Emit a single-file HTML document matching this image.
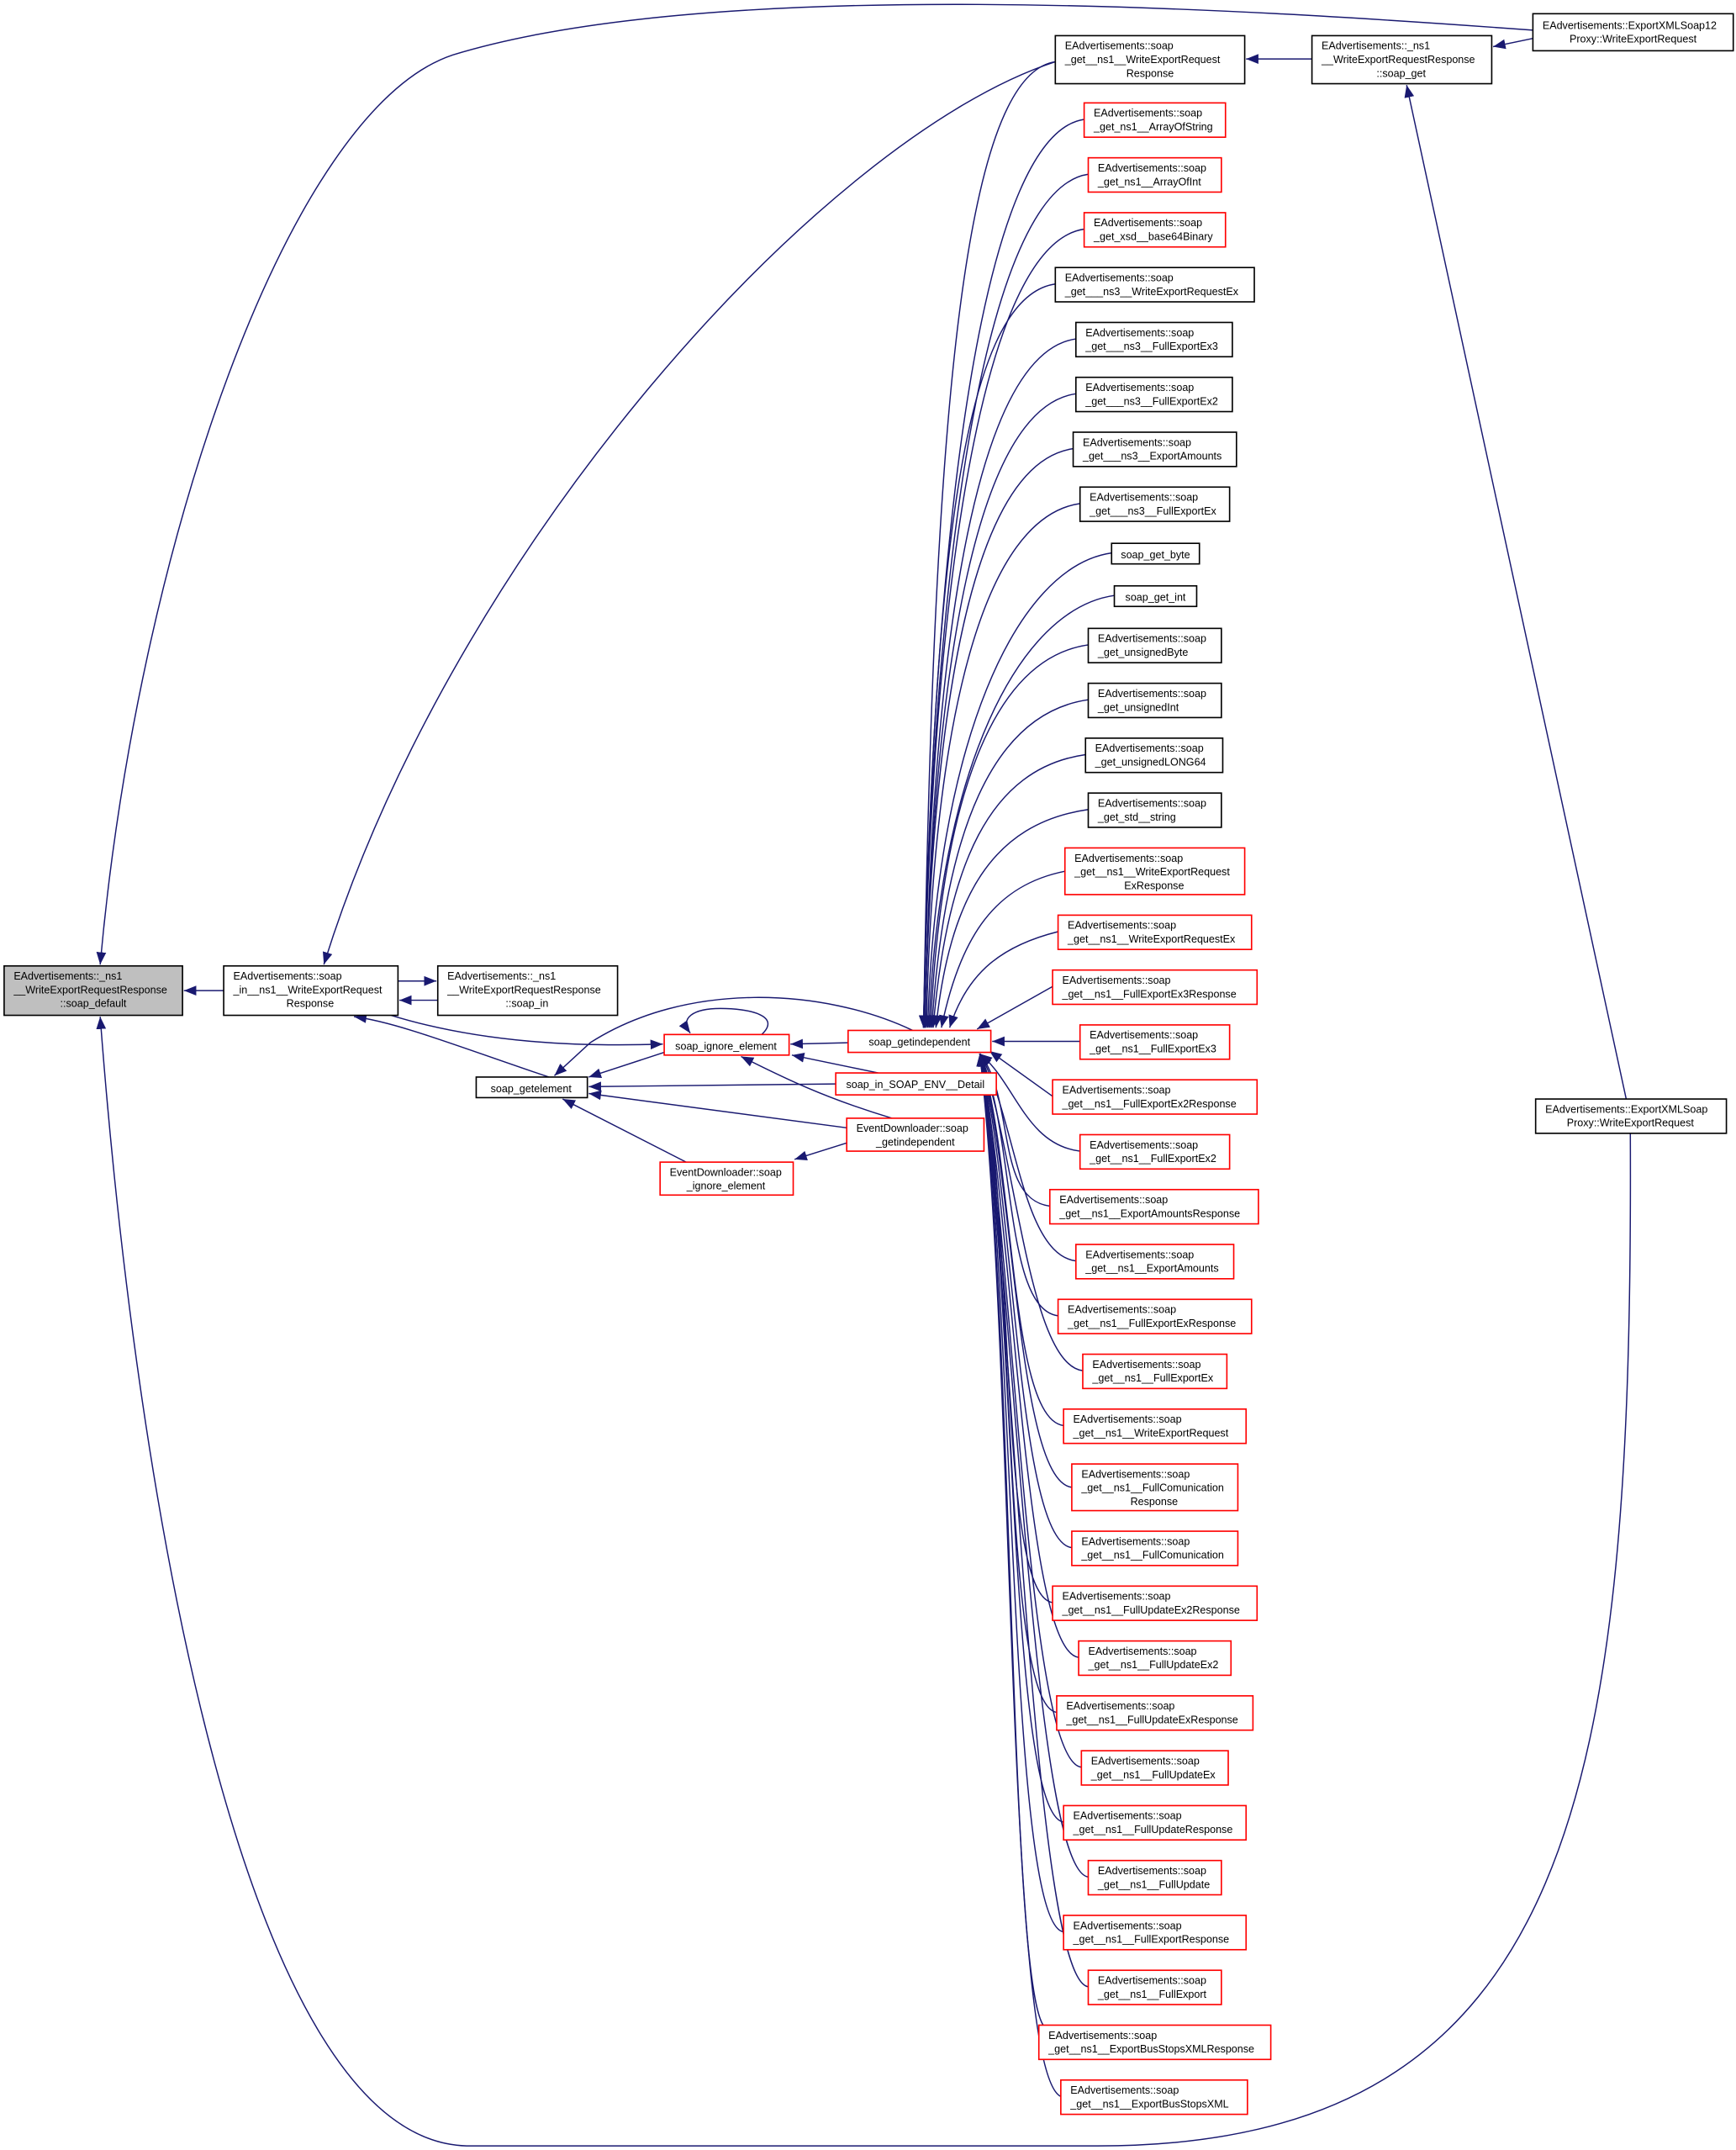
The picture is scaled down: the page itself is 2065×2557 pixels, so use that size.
<!DOCTYPE html>
<html><head><meta charset="utf-8"><style>
html,body{margin:0;padding:0;background:#fff;}
svg{display:block;}
text{font-family:"Liberation Sans",Helvetica,Arial,sans-serif;font-size:7.7px;fill:#000;}
.n{fill:#fff;stroke:#000;stroke-width:1;}
.r{fill:#fff;stroke:#ff0000;stroke-width:1;}
.g{fill:#bfbfbf;stroke:#000;stroke-width:1;}
.e{fill:none;stroke:#191970;stroke-width:0.9;marker-end:url(#a);}
.c{text-anchor:middle;}
</style></head><body>
<svg width="2065" height="2557" viewBox="0 0 1265 1567" preserveAspectRatio="none" xmlns="http://www.w3.org/2000/svg">
<defs><marker id="a" viewBox="0 0 10 10" refX="10" refY="5" markerWidth="9" markerHeight="9" markerUnits="userSpaceOnUse" orient="auto"><path d="M0,1 L10,5 L0,9 z" fill="#191970"/></marker></defs>

<!-- edges -->
<path class="e" d="M1117,22 C900,6 520,-18 330,40 C210,80 100,400 73,703"/>
<path class="e" d="M1188,826 C1190,1300 1150,1564 800,1564 L340,1564 C180,1560 100,1100 73,741"/>
<path class="e" d="M163,722 L134,722"/>
<path class="e" d="M769,45 C600,100 330,400 236,703"/>
<path class="e" d="M290,715 L318,715"/>
<path class="e" d="M319,729 L291,729"/>
<path class="e" d="M400,785 C340,765 290,745 258,741"/>
<path class="e" d="M285,740 C350,760 420,763 483,761"/>
<path class="e" d="M665,751 C600,720 500,715 430,760 L404,784"/>
<path class="e" d="M484,767 L429,785"/>
<path class="e" d="M609,790 L429,792"/>
<path class="e" d="M617,822 L429,797"/>
<path class="e" d="M500,847 L410,801"/>
<path class="e" d="M555,754 C570,740 545,735 525,735 C505,735 495,742 503,753"/>
<path class="e" d="M618,760 L576,761"/>
<path class="e" d="M640,782 L577,769"/>
<path class="e" d="M650,815 C600,800 570,785 540,770"/>
<path class="e" d="M617,833 L579,845"/>
<path class="e" d="M956,43 L908,43"/>
<path class="e" d="M1117,28 L1088,34"/>
<path class="e" d="M1185,801 L1025,62"/>

<path class="e" d="M769,45 C699,55 680,326 673,749"/>
<path class="e" d="M790,87 C720,97 680,353 673,749"/>
<path class="e" d="M793,127 C723,137 680,377 673,749"/>
<path class="e" d="M790,167 C720,177 680,401 673,749"/>
<path class="e" d="M769,207 C699,217 680,425 673,749"/>
<path class="e" d="M784,247 C714,257 680,449 674,749"/>
<path class="e" d="M784,287 C714,297 680,473 674,749"/>
<path class="e" d="M782,327 C712,337 680,497 674,749"/>
<path class="e" d="M787,367 C717,377 680,521 675,749"/>
<path class="e" d="M810,403 C740,413 682,542 676,749"/>
<path class="e" d="M812,434 C742,444 684,561 677,749"/>
<path class="e" d="M793,470 C723,480 686,582 678,749"/>
<path class="e" d="M793,510 C723,520 688,606 679,749"/>
<path class="e" d="M791,550 C721,560 690,630 680,749"/>
<path class="e" d="M793,590 C723,600 692,654 682,749"/>
<path class="e" d="M776,635 C726,645 700,681 686,749"/>
<path class="e" d="M771,679 C731,689 705,708 692,749"/>
<path class="e" d="M767,719 L712,750"/>
<path class="e" d="M787,759 L723,759"/>
<path class="e" d="M767,799 L721,766"/>
<path class="e" d="M787,839 C747,834 740,789 714,768"/>
<path class="e" d="M765,879 C725,874 740,801 714,768"/>
<path class="e" d="M784,919 C744,914 740,813 714,768"/>
<path class="e" d="M771,959 C731,954 740,825 714,768"/>
<path class="e" d="M789,999 C749,994 740,837 714,768"/>
<path class="e" d="M775,1039 C735,1034 740,849 714,768"/>
<path class="e" d="M781,1084 C741,1079 740,862 714,768"/>
<path class="e" d="M781,1128 C741,1123 740,875 714,768"/>
<path class="e" d="M767,1168 C727,1163 740,887 714,768"/>
<path class="e" d="M786,1208 C746,1203 740,899 714,768"/>
<path class="e" d="M770,1248 C730,1243 740,911 714,768"/>
<path class="e" d="M788,1288 C748,1283 740,923 714,768"/>
<path class="e" d="M775,1328 C735,1323 740,935 714,768"/>
<path class="e" d="M793,1368 C753,1363 740,947 714,768"/>
<path class="e" d="M775,1408 C735,1403 740,959 714,768"/>
<path class="e" d="M793,1448 C753,1443 740,971 714,768"/>
<path class="e" d="M762,1478 C735,1460 740,983 714,768"/>
<path class="e" d="M773,1528 C733,1510 740,995 714,768"/>

<!-- nodes -->
<rect class="g" x="3" y="704" width="130" height="36"/>
<text x="10" y="714">EAdvertisements::_ns1</text><text x="10" y="724">__WriteExportRequestResponse</text><text class="c" x="68" y="734">::soap_default</text>

<rect class="n" x="163" y="704" width="127" height="36"/>
<text x="170" y="714">EAdvertisements::soap</text><text x="170" y="724">_in__ns1__WriteExportRequest</text><text class="c" x="226" y="734">Response</text>

<rect class="n" x="319" y="704" width="131" height="36"/>
<text x="326" y="714">EAdvertisements::_ns1</text><text x="326" y="724">__WriteExportRequestResponse</text><text class="c" x="384" y="734">::soap_in</text>

<rect class="n" x="347" y="785" width="81" height="15"/><text class="c" x="387" y="796">soap_getelement</text>
<rect class="r" x="484" y="754" width="91" height="15"/><text class="c" x="529" y="765">soap_ignore_element</text>
<rect class="r" x="618" y="751" width="104" height="16"/><text class="c" x="670" y="762">soap_getindependent</text>
<rect class="r" x="609" y="782" width="117" height="16"/><text class="c" x="667" y="793">soap_in_SOAP_ENV__Detail</text>
<rect class="r" x="617" y="815" width="100" height="24"/><text x="624" y="825">EventDownloader::soap</text><text class="c" x="667" y="835">_getindependent</text>
<rect class="r" x="481" y="847" width="97" height="24"/><text x="488" y="857">EventDownloader::soap</text><text class="c" x="529" y="867">_ignore_element</text>

<rect class="n" x="769" y="26" width="138" height="35"/>
<text x="776" y="36">EAdvertisements::soap</text><text x="776" y="46">_get__ns1__WriteExportRequest</text><text class="c" x="838" y="56">Response</text>
<rect class="n" x="956" y="26" width="131" height="35"/>
<text x="963" y="36">EAdvertisements::_ns1</text><text x="963" y="46">__WriteExportRequestResponse</text><text class="c" x="1021" y="56">::soap_get</text>
<rect class="n" x="1117" y="10" width="146" height="27"/>
<text x="1124" y="21">EAdvertisements::ExportXMLSoap12</text><text class="c" x="1190" y="31">Proxy::WriteExportRequest</text>
<rect class="n" x="1119" y="801" width="139" height="25"/>
<text x="1126" y="811">EAdvertisements::ExportXMLSoap</text><text class="c" x="1188" y="821">Proxy::WriteExportRequest</text>

<rect class="r" x="790" y="75" width="103" height="25"/><text x="797" y="85">EAdvertisements::soap</text><text x="797" y="95">_get_ns1__ArrayOfString</text>
<rect class="r" x="793" y="115" width="97" height="25"/><text x="800" y="125">EAdvertisements::soap</text><text x="800" y="135">_get_ns1__ArrayOfInt</text>
<rect class="r" x="790" y="155" width="103" height="25"/><text x="797" y="165">EAdvertisements::soap</text><text x="797" y="175">_get_xsd__base64Binary</text>
<rect class="n" x="769" y="195" width="145" height="25"/><text x="776" y="205">EAdvertisements::soap</text><text x="776" y="215">_get___ns3__WriteExportRequestEx</text>
<rect class="n" x="784" y="235" width="114" height="25"/><text x="791" y="245">EAdvertisements::soap</text><text x="791" y="255">_get___ns3__FullExportEx3</text>
<rect class="n" x="784" y="275" width="114" height="25"/><text x="791" y="285">EAdvertisements::soap</text><text x="791" y="295">_get___ns3__FullExportEx2</text>
<rect class="n" x="782" y="315" width="119" height="25"/><text x="789" y="325">EAdvertisements::soap</text><text x="789" y="335">_get___ns3__ExportAmounts</text>
<rect class="n" x="787" y="355" width="109" height="25"/><text x="794" y="365">EAdvertisements::soap</text><text x="794" y="375">_get___ns3__FullExportEx</text>
<rect class="n" x="810" y="396" width="64" height="15"/><text class="c" x="842" y="407">soap_get_byte</text>
<rect class="n" x="812" y="427" width="60" height="15"/><text class="c" x="842" y="438">soap_get_int</text>
<rect class="n" x="793" y="458" width="97" height="25"/><text x="800" y="468">EAdvertisements::soap</text><text x="800" y="478">_get_unsignedByte</text>
<rect class="n" x="793" y="498" width="97" height="25"/><text x="800" y="508">EAdvertisements::soap</text><text x="800" y="518">_get_unsignedInt</text>
<rect class="n" x="791" y="538" width="100" height="25"/><text x="798" y="548">EAdvertisements::soap</text><text x="798" y="558">_get_unsignedLONG64</text>
<rect class="n" x="793" y="578" width="97" height="25"/><text x="800" y="588">EAdvertisements::soap</text><text x="800" y="598">_get_std__string</text>
<rect class="r" x="776" y="618" width="131" height="34"/><text x="783" y="628">EAdvertisements::soap</text><text x="783" y="638">_get__ns1__WriteExportRequest</text><text class="c" x="841" y="648">ExResponse</text>
<rect class="r" x="771" y="667" width="141" height="25"/><text x="778" y="677">EAdvertisements::soap</text><text x="778" y="687">_get__ns1__WriteExportRequestEx</text>
<rect class="r" x="767" y="707" width="149" height="25"/><text x="774" y="717">EAdvertisements::soap</text><text x="774" y="727">_get__ns1__FullExportEx3Response</text>
<rect class="r" x="787" y="747" width="109" height="25"/><text x="794" y="757">EAdvertisements::soap</text><text x="794" y="767">_get__ns1__FullExportEx3</text>
<rect class="r" x="767" y="787" width="149" height="25"/><text x="774" y="797">EAdvertisements::soap</text><text x="774" y="807">_get__ns1__FullExportEx2Response</text>
<rect class="r" x="787" y="827" width="109" height="25"/><text x="794" y="837">EAdvertisements::soap</text><text x="794" y="847">_get__ns1__FullExportEx2</text>
<rect class="r" x="765" y="867" width="152" height="25"/><text x="772" y="877">EAdvertisements::soap</text><text x="772" y="887">_get__ns1__ExportAmountsResponse</text>
<rect class="r" x="784" y="907" width="115" height="25"/><text x="791" y="917">EAdvertisements::soap</text><text x="791" y="927">_get__ns1__ExportAmounts</text>
<rect class="r" x="771" y="947" width="141" height="25"/><text x="778" y="957">EAdvertisements::soap</text><text x="778" y="967">_get__ns1__FullExportExResponse</text>
<rect class="r" x="789" y="987" width="105" height="25"/><text x="796" y="997">EAdvertisements::soap</text><text x="796" y="1007">_get__ns1__FullExportEx</text>
<rect class="r" x="775" y="1027" width="133" height="25"/><text x="782" y="1037">EAdvertisements::soap</text><text x="782" y="1047">_get__ns1__WriteExportRequest</text>
<rect class="r" x="781" y="1067" width="121" height="34"/><text x="788" y="1077">EAdvertisements::soap</text><text x="788" y="1087">_get__ns1__FullComunication</text><text class="c" x="841" y="1097">Response</text>
<rect class="r" x="781" y="1116" width="121" height="25"/><text x="788" y="1126">EAdvertisements::soap</text><text x="788" y="1136">_get__ns1__FullComunication</text>
<rect class="r" x="767" y="1156" width="149" height="25"/><text x="774" y="1166">EAdvertisements::soap</text><text x="774" y="1176">_get__ns1__FullUpdateEx2Response</text>
<rect class="r" x="786" y="1196" width="111" height="25"/><text x="793" y="1206">EAdvertisements::soap</text><text x="793" y="1216">_get__ns1__FullUpdateEx2</text>
<rect class="r" x="770" y="1236" width="143" height="25"/><text x="777" y="1246">EAdvertisements::soap</text><text x="777" y="1256">_get__ns1__FullUpdateExResponse</text>
<rect class="r" x="788" y="1276" width="107" height="25"/><text x="795" y="1286">EAdvertisements::soap</text><text x="795" y="1296">_get__ns1__FullUpdateEx</text>
<rect class="r" x="775" y="1316" width="133" height="25"/><text x="782" y="1326">EAdvertisements::soap</text><text x="782" y="1336">_get__ns1__FullUpdateResponse</text>
<rect class="r" x="793" y="1356" width="97" height="25"/><text x="800" y="1366">EAdvertisements::soap</text><text x="800" y="1376">_get__ns1__FullUpdate</text>
<rect class="r" x="775" y="1396" width="133" height="25"/><text x="782" y="1406">EAdvertisements::soap</text><text x="782" y="1416">_get__ns1__FullExportResponse</text>
<rect class="r" x="793" y="1436" width="97" height="25"/><text x="800" y="1446">EAdvertisements::soap</text><text x="800" y="1456">_get__ns1__FullExport</text>
<rect class="r" x="757" y="1476" width="169" height="25"/><text x="764" y="1486">EAdvertisements::soap</text><text x="764" y="1496">_get__ns1__ExportBusStopsXMLResponse</text>
<rect class="r" x="773" y="1516" width="136" height="25"/><text x="780" y="1526">EAdvertisements::soap</text><text x="780" y="1536">_get__ns1__ExportBusStopsXML</text>
</svg>
</body></html>
